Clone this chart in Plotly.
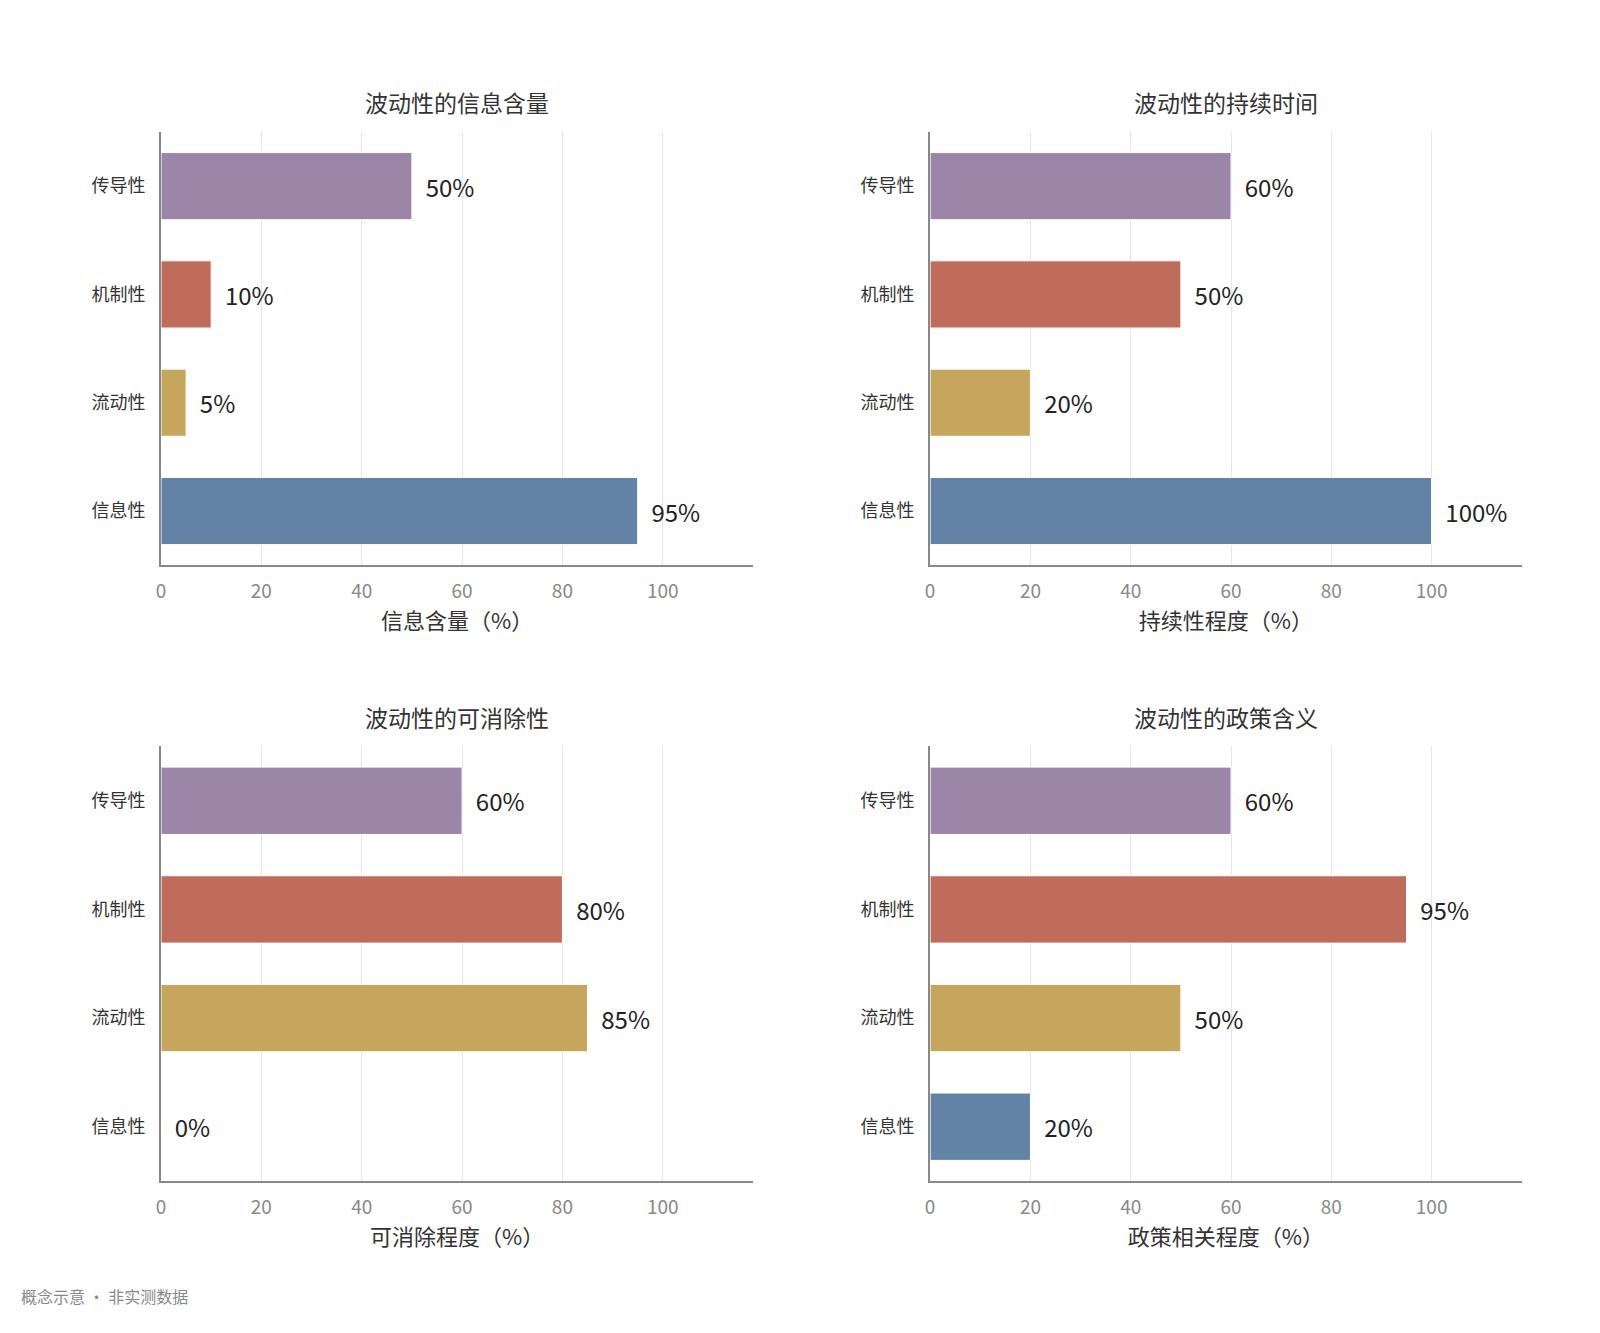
import plotly.graph_objects as go

categories = ["传导性", "机制性", "流动性", "信息性"]
colors = ["#9b86a8", "#c06c5a", "#c6a55c", "#6283a6"]
titles = ["波动性的信息含量", "波动性的持续时间", "波动性的可消除性", "波动性的政策含义"]
xtitles = ["信息含量（%）", "持续性程度（%）", "可消除程度（%）", "政策相关程度（%）"]
values = [
    [50, 10, 5, 95],
    [60, 50, 20, 100],
    [60, 80, 85, 0],
    [60, 95, 50, 20],
]
tickvals = [0, 20, 40, 60, 80, 100]

FONT = "Noto Sans CJK SC"
xdom = [[0.0928, 0.464], [0.575, 0.946]]
ydom = [[0.582, 0.907], [0.120, 0.446]]

fig = go.Figure()
for i in range(4):
    r, c = divmod(i, 2)
    n = "" if i == 0 else str(i + 1)
    fig.add_trace(go.Bar(
        y=categories, x=values[i], orientation="h",
        marker=dict(color=colors, line=dict(color="white", width=1)),
        width=0.62,
        text=[f"  {v}%" for v in values[i]], textposition="outside",
        textfont=dict(size=24, color="#222", family=FONT),
        cliponaxis=False, showlegend=False,
        xaxis="x" + n, yaxis="y" + n,
    ))
    fig.layout["xaxis" + n] = dict(
        domain=xdom[c], anchor="y" + n, range=[0, 118], tickvals=tickvals,
        showgrid=True, gridcolor="#e6e6e6", gridwidth=1, zeroline=False,
        showline=True, linecolor="#888", linewidth=2,
        tickfont=dict(size=19, color="#888", family=FONT), ticklabelstandoff=8,
        title=dict(text=xtitles[i], font=dict(size=22, color="#333", family=FONT), standoff=10),
    )
    fig.layout["yaxis" + n] = dict(
        domain=ydom[r], anchor="x" + n, autorange="reversed",
        showline=True, linecolor="#888", linewidth=2, showgrid=False,
        tickfont=dict(size=18, color="#333", family=FONT), ticks="", ticklabelstandoff=10,
    )
    fig.add_annotation(
        text=titles[i], xref="paper", yref="paper",
        x=(xdom[c][0] + xdom[c][1]) / 2, y=ydom[r][1] + 0.008,
        xanchor="center", yanchor="bottom",
        showarrow=False, font=dict(size=23, color="#333", family=FONT),
    )

fig.add_annotation(text="概念示意 · 非实测数据", xref="paper", yref="paper", x=0.004, y=0.034,
                   xanchor="left", yanchor="middle", showarrow=False,
                   font=dict(size=16, color="#888", family=FONT))

fig.update_layout(width=1600, height=1333, margin=dict(l=0, r=0, t=0, b=0),
                  plot_bgcolor="white", paper_bgcolor="white", bargap=0.38,
                  font=dict(family=FONT))
fig.write_html("out.html")
